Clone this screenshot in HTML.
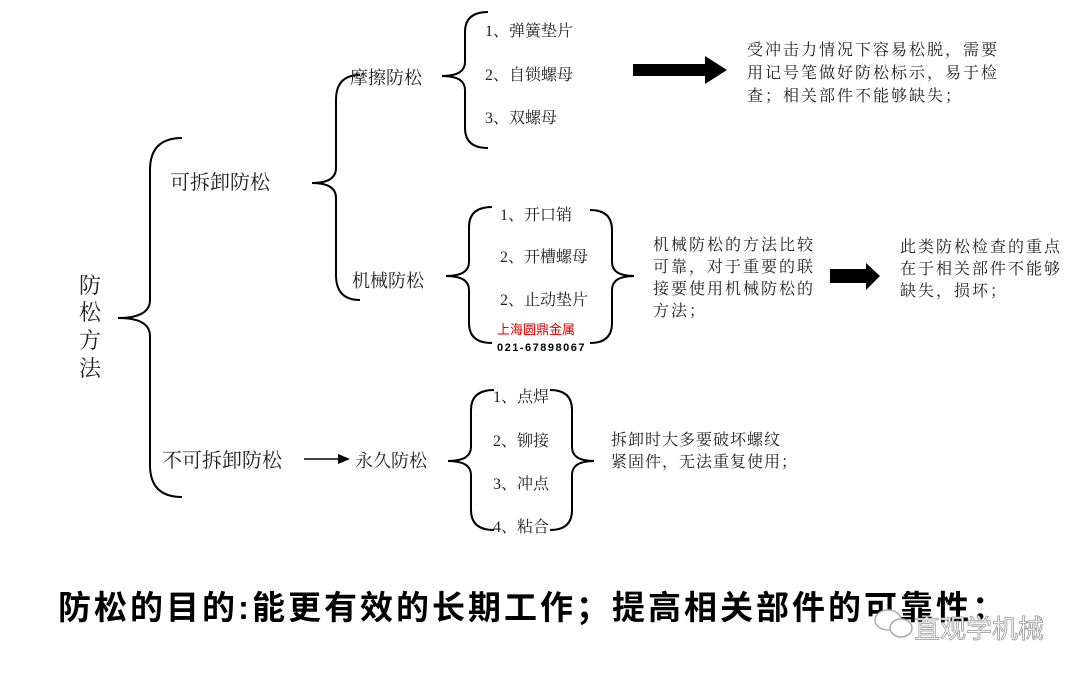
<!DOCTYPE html>
<html><head><meta charset="utf-8"><style>
html,body{margin:0;padding:0;background:#fff;}
svg{display:block;}
text{font-family:"Liberation Serif","Noto Serif CJK SC",serif;fill:#222;}
.b{font-family:"Liberation Sans","Noto Sans CJK SC",sans-serif;font-weight:bold;fill:#000;}
</style></head><body>
<svg width="1080" height="675" viewBox="0 0 1080 675" xmlns="http://www.w3.org/2000/svg">
<g fill="none" stroke="#000" stroke-width="2">
<path d="M182,138 Q150,138 150,170 L150,300 Q150,318 118,318 Q150,318 150,336 L150,465 Q150,497 182,497"/>
<path d="M360,75 Q336,75 336,100 L336,168 Q336,183 312,183 Q336,183 336,198 L336,275 Q336,300 360,300"/>
<path d="M488,12 Q465,12 465,32 L465,62 Q465,76 442,76 Q465,76 465,90 L465,128 Q465,148 488,148"/>
<path d="M492,207 Q469,207 469,227 L469,262 Q469,276 446,276 Q469,276 469,290 L469,323 Q469,343 492,343"/>
<path d="M590,210 Q612,210 612,230 L612,262 Q612,276 634,276 Q612,276 612,290 L612,323 Q612,343 590,343"/>
<path d="M494,390 Q471,390 471,410 L471,447 Q471,461 448,461 Q471,461 471,475 L471,510 Q471,530 494,530"/>
<path d="M550,390 Q572,390 572,410 L572,447 Q572,461 594,461 Q572,461 572,475 L572,510 Q572,530 550,530"/>
<line x1="304" y1="459" x2="338" y2="459" stroke-width="1.5"/>
</g>
<polygon points="338,454 350,459 338,464" fill="#000"/>
<polygon points="633,64 705,64 705,56 727,70 705,84 705,76 633,76" fill="#000"/>
<polygon points="830,269 866,269 866,263 880,276 866,290 866,283 830,283" fill="#000"/>

<g font-size="22">
<text x="79" y="293">防</text><text x="79" y="320">松</text><text x="79" y="348">方</text><text x="79" y="376">法</text>
</g>
<text x="170" y="189" font-size="20">可拆卸防松</text>
<text x="162" y="467" font-size="20">不可拆卸防松</text>
<text x="350" y="84" font-size="18">摩擦防松</text>
<text x="352" y="287" font-size="18">机械防松</text>
<text x="355" y="467" font-size="18">永久防松</text>

<g font-size="16">
<text x="485" y="36">1、弹簧垫片</text>
<text x="485" y="80">2、自锁螺母</text>
<text x="485" y="123">3、双螺母</text>
<text x="500" y="220">1、开口销</text>
<text x="500" y="262">2、开槽螺母</text>
<text x="500" y="305">2、止动垫片</text>
<text x="493" y="402">1、点焊</text>
<text x="493" y="446">2、铆接</text>
<text x="493" y="489">3、冲点</text>
<text x="493" y="532">4、粘合</text>
</g>
<text x="497" y="334" font-size="13" style="fill:#d00;font-family:'Liberation Sans','Noto Sans CJK SC',sans-serif">上海圆鼎金属</text>
<text x="497" y="351" font-size="11" class="b" style="letter-spacing:1.5px">021-67898067</text>

<g font-size="16" letter-spacing="2">
<text x="747" y="55">受冲击力情况下容易松脱，需要</text>
<text x="747" y="78">用记号笔做好防松标示，易于检</text>
<text x="747" y="101">查；相关部件不能够缺失；</text>
<text x="653" y="250">机械防松的方法比较</text>
<text x="653" y="272">可靠，对于重要的联</text>
<text x="653" y="294">接要使用机械防松的</text>
<text x="653" y="316">方法；</text>
<text x="900" y="252">此类防松检查的重点</text>
<text x="900" y="274">在于相关部件不能够</text>
<text x="900" y="296">缺失，损坏；</text>
</g>
<g font-size="16" letter-spacing="1">
<text x="611" y="445">拆卸时大多要破坏螺纹</text>
<text x="611" y="467">紧固件，无法重复使用；</text>
</g>

<text x="58" y="619" font-size="33" class="b" letter-spacing="3">防松的目的:能更有效的长期工作；提高相关部件的可靠性：</text>

<g fill="none" stroke="#aaa" stroke-width="1.5">
<ellipse cx="888" cy="620" rx="13" ry="10" fill="#fff"/>
<ellipse cx="901" cy="628" rx="11" ry="9" fill="#fff"/>
</g>
<text x="914" y="638" font-size="26" style="fill:#fff;stroke:#999;stroke-width:0.8;font-family:'Liberation Sans','Noto Sans CJK SC',sans-serif">直观学机械</text>
</svg>
</body></html>
